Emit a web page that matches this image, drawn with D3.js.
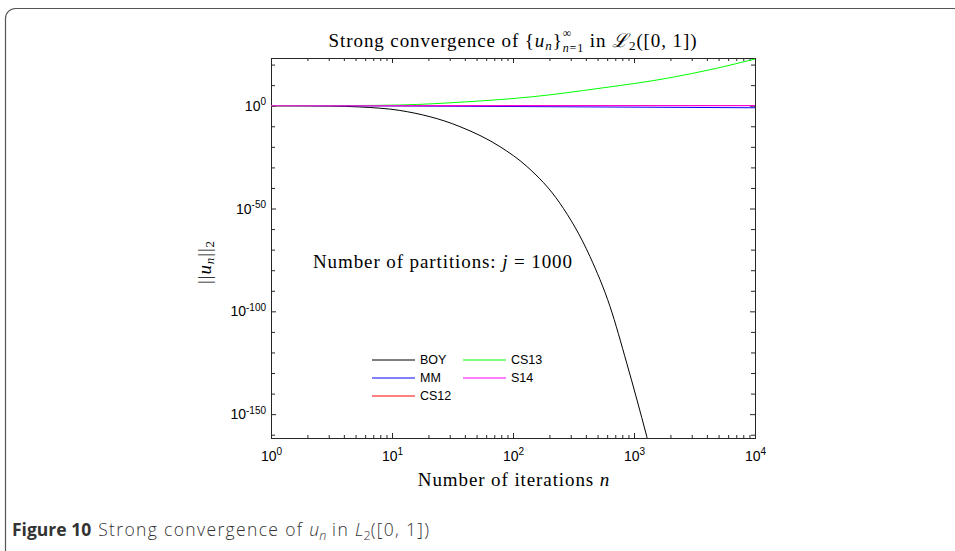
<!DOCTYPE html>
<html>
<head>
<meta charset="utf-8">
<script src="https://cdn.jsdelivr.net/npm/d3@7"></script>
<style>
  body { margin: 0; background: #fff; }
  svg { display: block; }
  .tick text { font-family: "Liberation Sans", Arial, sans-serif; font-size: 14px; fill: #000; }
  .serif { font-family: "Liberation Serif", "DejaVu Serif", serif; fill: #000; letter-spacing: 0.9px; }
</style>
</head>
<body>
<svg id="chart" width="955" height="551"></svg>
<script>
'use strict';

// iteration counts (x) and log10 of ||u_n||_2
var boyN     = [1, 2, 3, 5.4, 11.6, 36.5, 78, 130, 244, 433, 634, 871, 1274, 1350];
var boyLog10 = [0, -0.05, -0.15, -0.6, -2.3, -10.2, -19.9, -29.5, -47.4, -73.4, -97.7, -125.2, -160.8, -166.5];

var mmN      = [1, 10, 100, 1000, 10000];
var mmLog10  = [0, -0.1, -0.4, -0.7, -1.0];

var cs12N     = [1, 10, 100, 1000, 10000];
var cs12Log10 = [0, 0.02, 0.05, 0.08, 0.1];

var cs13N     = [1, 5, 11.6, 41.4, 147, 524, 1862, 4820, 10000];
var cs13Log10 = [0, 0.1, 0.34, 1.9, 4.4, 8.5, 13.3, 18.2, 22.7];

var s14N      = [1, 10, 100, 1000, 10000];
var s14Log10  = [0, 0, 0, 0, 0];

var seriesNames  = ["BOY", "MM", "CS12", "CS13", "S14"];
var seriesColors = ["#000000", "#0000ff", "#ff0000", "#00ff00", "#ff00ff"];

var xMajorTicks = [1, 10, 100, 1000, 10000];
var yMajorExp   = [0, -50, -100, -150];
var yMinorExp   = [20, 10, -10, -20, -30, -40, -60, -70, -80, -90, -110, -120, -130, -140, -160];

var yDomainExp = [-161.6, 23.2];

var svg = d3.select("#chart");
var plotLeft = 271, plotRight = 755, plotTop = 58, plotBottom = 438;

function pow10(e) { return Math.pow(10, e); }

var x = d3.scaleLog().domain([1, 10000]).range([plotLeft, plotRight]);
var y = d3.scaleLog().domain(yDomainExp.map(pow10)).range([plotBottom, plotTop]);

// outer figure frame
svg.append("rect")
    .attr("x", 5.5).attr("y", 8.5)
    .attr("width", 1000).attr("height", 580)
    .attr("rx", 10).attr("ry", 10)
    .attr("fill", "none")
    .attr("stroke", "#555")
    .attr("stroke-width", 1.2);

// caption
var caption = svg.append("text")
    .attr("x", 12).attr("y", 536)
    .attr("font-family", "'Open Sans', 'Noto Sans', sans-serif")
    .attr("font-size", 17.5)
    .attr("fill", "#333");
caption.append("tspan").attr("font-weight", "bold").text("Figure 10");
caption.append("tspan").attr("dx", 7).attr("font-weight", 300).attr("letter-spacing", 1.35).text("Strong convergence of ");
caption.append("tspan").attr("font-style", "italic").attr("font-weight", 300).text("u");
caption.append("tspan").attr("font-style", "italic").attr("font-weight", 300).attr("font-size", 12.5).attr("dy", 3.5).text("n");
caption.append("tspan").attr("dy", -3.5).attr("font-weight", 300).attr("letter-spacing", 1.35).text(" in ");
caption.append("tspan").attr("font-style", "italic").attr("font-weight", 300).text("L");
caption.append("tspan").attr("font-size", 12.5).attr("font-weight", 300).attr("dy", 3.5).text("2");
caption.append("tspan").attr("dy", -3.5).attr("font-weight", 300).attr("letter-spacing", 1.35).text("([0, 1])");

// clip for the curves
svg.append("clipPath").attr("id", "plotclip")
  .append("rect")
    .attr("x", plotLeft).attr("y", plotTop)
    .attr("width", plotRight - plotLeft).attr("height", plotBottom - plotTop);

var xMinorTicks = [];
xMajorTicks.slice(0, -1).forEach(function (d) {
    for (var k = 2; k <= 9; k++) xMinorTicks.push(d * k);
});

function supLabel(sel) {
    sel.each(function (d) {
        var t = d3.select(this);
        var e = Math.round(Math.log10(d));
        t.text(null);
        t.append("tspan").text("10");
        t.append("tspan").attr("dy", "-0.55em").attr("font-size", "10px").text(e);
    });
}

var axisColor = "#262626";

function styleAxis(g) {
    g.select(".domain").attr("stroke", axisColor).attr("stroke-width", 1);
    g.selectAll(".tick line").attr("stroke", axisColor);
}

// minor ticks (all four sides)
svg.append("g").attr("transform", "translate(0," + plotBottom + ")")
    .call(d3.axisBottom(x).tickValues(xMinorTicks).tickSize(-3).tickFormat(""))
    .call(styleAxis);
svg.append("g").attr("transform", "translate(0," + plotTop + ")")
    .call(d3.axisTop(x).tickValues(xMinorTicks).tickSize(-3).tickFormat(""))
    .call(styleAxis);
svg.append("g").attr("transform", "translate(" + plotLeft + ",0)")
    .call(d3.axisLeft(y).tickValues(yMinorExp.map(pow10)).tickSize(-4).tickFormat(""))
    .call(styleAxis);
svg.append("g").attr("transform", "translate(" + plotRight + ",0)")
    .call(d3.axisRight(y).tickValues(yMinorExp.map(pow10)).tickSize(-4).tickFormat(""))
    .call(styleAxis);

// major ticks with labels
var xAxisG = svg.append("g").attr("transform", "translate(0," + plotBottom + ")")
    .call(d3.axisBottom(x).tickValues(xMajorTicks).tickSize(-5).tickPadding(13))
    .call(styleAxis);
xAxisG.selectAll(".tick text").call(supLabel);

svg.append("g").attr("transform", "translate(0," + plotTop + ")")
    .call(d3.axisTop(x).tickValues(xMajorTicks).tickSize(-5).tickFormat(""))
    .call(styleAxis);

var yAxisG = svg.append("g").attr("transform", "translate(" + plotLeft + ",0)")
    .call(d3.axisLeft(y).tickValues(yMajorExp.map(pow10)).tickSize(-5).tickPadding(5))
    .call(styleAxis);
yAxisG.selectAll(".tick text").call(supLabel);

svg.append("g").attr("transform", "translate(" + plotRight + ",0)")
    .call(d3.axisRight(y).tickValues(yMajorExp.map(pow10)).tickSize(-5).tickFormat(""))
    .call(styleAxis);

// curves
var seriesData = [
    {n: boyN, v: boyLog10},
    {n: mmN, v: mmLog10},
    {n: cs12N, v: cs12Log10},
    {n: cs13N, v: cs13Log10},
    {n: s14N, v: s14Log10}
].map(function (s, i) {
    return {
        name: seriesNames[i],
        color: seriesColors[i],
        points: s.n.map(function (n, j) { return [n, pow10(s.v[j])]; })
    };
});

var line = d3.line()
    .x(function (d) { return x(d[0]); })
    .y(function (d) { return y(d[1]); })
    .curve(d3.curveMonotoneX);

svg.append("g").attr("clip-path", "url(#plotclip)")
  .selectAll("path")
  .data(seriesData)
  .join("path")
    .attr("d", function (d) { return line(d.points); })
    .attr("fill", "none")
    .attr("stroke", function (d) { return d.color; })
    .attr("stroke-width", 1);

// legend, two columns, no box
var legendPos = [[372, 360], [372, 378], [372, 396], [463, 360], [463, 378]];
var legend = svg.append("g")
  .selectAll("g")
  .data(seriesData)
  .join("g")
    .attr("transform", function (d, i) { return "translate(" + legendPos[i][0] + "," + legendPos[i][1] + ")"; });
legend.append("line")
    .attr("x1", 0).attr("x2", 43)
    .attr("stroke", function (d) { return d.color; })
    .attr("stroke-width", 1);
legend.append("text")
    .attr("x", 48).attr("dy", "0.35em")
    .attr("font-family", "'Liberation Sans', Arial, sans-serif")
    .attr("font-size", 12.5)
    .text(function (d) { return d.name; });

// title; the stacked superscript is placed over the subscript afterwards
var title = svg.append("text").attr("class", "serif")
    .attr("x", 513).attr("y", 47)
    .attr("text-anchor", "middle")
    .attr("font-size", 19);
title.append("tspan").text("Strong convergence of {");
title.append("tspan").attr("font-style", "italic").text("u");
title.append("tspan").attr("font-style", "italic").attr("font-size", 13).attr("dy", 3).text("n");
title.append("tspan").attr("dy", -3).text("}");
var lowerScript = title.append("tspan").attr("font-size", 12).attr("dy", 5).attr("font-style", "italic").text("n");
title.append("tspan").attr("font-size", 12).text("=1");
title.append("tspan").attr("dy", -5).text(" in ");
title.append("tspan").attr("font-style", "italic").text("ℒ");
title.append("tspan").attr("font-size", 13).attr("dy", 3).text("2");
title.append("tspan").attr("dy", -3).text("([0, 1])");

var scriptStart = lowerScript.node().getStartPositionOfChar(0);
svg.append("text").attr("class", "serif")
    .attr("x", scriptStart.x).attr("y", 37)
    .attr("font-size", 12)
    .text("∞");

// x label
var xLabel = svg.append("text").attr("class", "serif")
    .attr("x", 514).attr("y", 486)
    .attr("text-anchor", "middle")
    .attr("font-size", 19);
xLabel.append("tspan").text("Number of iterations ");
xLabel.append("tspan").attr("font-style", "italic").text("n");

// y label
var yLabel = svg.append("text").attr("class", "serif")
    .attr("transform", "translate(211,262) rotate(-90)")
    .attr("text-anchor", "middle")
    .attr("font-size", 19);
yLabel.append("tspan").text("||");
yLabel.append("tspan").attr("font-style", "italic").text("u");
yLabel.append("tspan").attr("font-style", "italic").attr("font-size", 13).attr("dy", 3).text("n");
yLabel.append("tspan").attr("dy", -3).text("||");
yLabel.append("tspan").attr("font-size", 13).attr("dy", 3).text("2");

// annotation
var note = svg.append("text").attr("class", "serif")
    .attr("x", 313).attr("y", 268)
    .attr("font-size", 19);
note.append("tspan").text("Number of partitions:  ");
note.append("tspan").attr("font-style", "italic").text("j");
note.append("tspan").text(" = 1000");
</script>
</body>
</html>
